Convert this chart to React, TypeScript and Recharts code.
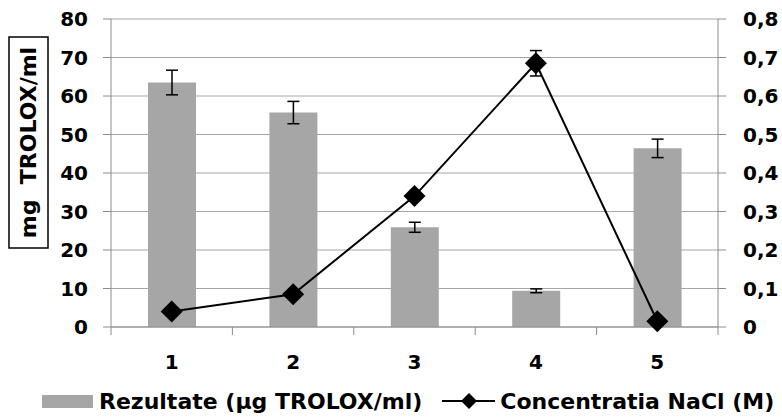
import React from 'react';
import { ComposedChart, Bar, Line, XAxis, YAxis, CartesianGrid, ErrorBar, Legend } from 'recharts';

// date
const categories = ['1', '2', '3', '4', '5'];
const rezultate = [63.5, 55.7, 25.9, 9.4, 46.4];
const rezultateErr = [3.2, 2.9, 1.3, 0.5, 2.4];
const nacl = [0.04, 0.085, 0.34, 0.685, 0.015];
const naclErr = [0.01, 0.01, 0.01, 0.033, 0.01];
const leftTicks = [0, 10, 20, 30, 40, 50, 60, 70, 80];
const rightTicks = [0, 0.1, 0.2, 0.3, 0.4, 0.5, 0.6, 0.7, 0.8];

const data = categories.map((c, i) => ({
  cat: c,
  rezultate: rezultate[i],
  rezultateErr: rezultateErr[i],
  nacl: nacl[i],
  naclErr: naclErr[i],
}));

const W = 782;
const H = 418;
const LEFT_W = 111;
const RIGHT_W = 64;
const BAND = (W - LEFT_W - RIGHT_W) / categories.length;
const FONT = '"DejaVu Sans", sans-serif';
const AXIS_GRAY = '#8c8c8c';

const tickStyle = { fill: '#000', fontSize: 20, fontWeight: 'bold', fontFamily: FONT };

const diamond = (cx: number, cy: number, r: number, key?: string | number) => (
  <polygon
    key={key}
    points={`${cx},${cy - r} ${cx + r},${cy} ${cx},${cy + r} ${cx - r},${cy}`}
    fill="#000"
  />
);

const XTick = (props: any) => {
  const { x, y, payload, index } = props;
  const axisY = y - 28;
  return (
    <g>
      <line x1={x - BAND / 2} x2={x - BAND / 2} y1={axisY} y2={axisY + 8} stroke={AXIS_GRAY} />
      {index === categories.length - 1 && (
        <line x1={x + BAND / 2} x2={x + BAND / 2} y1={axisY} y2={axisY + 8} stroke={AXIS_GRAY} />
      )}
      <text x={x} y={y} dy="0.71em" textAnchor="middle" {...tickStyle}>
        {payload.value}
      </text>
    </g>
  );
};

const YLabel = (props: any) => {
  const vb = props.viewBox || { x: 0, y: 0 };
  const cx = vb.x + 28.5;
  const cy = 142.5;
  return (
    <g>
      <rect x={vb.x + 9} y={37} width={39} height={211} fill="none" stroke="#000" strokeWidth={1.5} />
      <text
        x={cx}
        y={cy}
        transform={`rotate(-90, ${cx}, ${cy})`}
        textAnchor="middle"
        dominantBaseline="central"
        fill="#000"
        fontSize={22}
        fontWeight="bold"
        fontFamily={FONT}
        style={{ whiteSpace: 'pre' }}
      >
        {'mg  TROLOX/ml'}
      </text>
    </g>
  );
};

const LegendContent = () => (
  <div
    style={{
      height: 30,
      display: 'flex',
      alignItems: 'center',
      paddingLeft: 42,
      fontFamily: FONT,
      fontWeight: 'bold',
      fontSize: 22,
      color: '#000',
      whiteSpace: 'nowrap',
    }}
  >
    <span style={{ display: 'inline-block', width: 51, height: 13, background: '#a6a6a6', marginRight: 6 }} />
    <span>Rezultate (µg TROLOX/ml)</span>
    <svg width={53} height={20} style={{ marginLeft: 20, marginRight: 5 }}>
      <line x1={0} x2={53} y1={10} y2={10} stroke="#000" strokeWidth={2} />
      {diamond(27, 10, 8)}
    </svg>
    <span>Concentratia NaCl (M)</span>
  </div>
);

export default function App() {
  return (
    <div style={{ position: 'absolute', left: 0, top: 0 }}>
      <ComposedChart width={W} height={H} data={data} margin={{ top: 19, right: 0, bottom: 2, left: 0 }}>
        <CartesianGrid vertical={false} stroke="#a6a6a6" yAxisId="left" />
        <XAxis
          dataKey="cat"
          height={59}
          tickSize={0}
          tickMargin={28}
          tick={<XTick />}
          axisLine={{ stroke: AXIS_GRAY }}
          interval={0}
        />
        <YAxis
          yAxisId="left"
          domain={[0, 80]}
          ticks={leftTicks}
          width={LEFT_W}
          tickSize={8}
          tickMargin={15}
          tick={tickStyle}
          tickLine={{ stroke: AXIS_GRAY }}
          axisLine={{ stroke: AXIS_GRAY }}
          label={<YLabel />}
        />
        <YAxis
          yAxisId="right"
          orientation="right"
          domain={[0, 0.8]}
          ticks={rightTicks}
          width={RIGHT_W}
          tickSize={8}
          tickMargin={17}
          tick={{ ...tickStyle, textAnchor: 'start' }}
          tickFormatter={(v: number) => (v === 0 ? '0' : v.toFixed(1).replace('.', ','))}
          tickLine={{ stroke: AXIS_GRAY }}
          axisLine={{ stroke: AXIS_GRAY }}
        />
        <Legend verticalAlign="bottom" content={<LegendContent />} wrapperStyle={{ left: 0, width: W }} />
        <Bar
          yAxisId="left"
          dataKey="rezultate"
          name="Rezultate (µg TROLOX/ml)"
          fill="#a6a6a6"
          barSize={48}
          isAnimationActive={false}
        >
          <ErrorBar dataKey="rezultateErr" width={6} stroke="#000" strokeWidth={1.5} direction="y" />
        </Bar>
        <Line
          yAxisId="right"
          dataKey="nacl"
          name="Concentratia NaCl (M)"
          stroke="#000"
          strokeWidth={2}
          dot={(p: any) => diamond(p.cx, p.cy, 11, p.index)}
          activeDot={false}
          isAnimationActive={false}
        >
          <ErrorBar dataKey="naclErr" width={6} stroke="#000" strokeWidth={1.5} direction="y" />
        </Line>
      </ComposedChart>
    </div>
  );
}
